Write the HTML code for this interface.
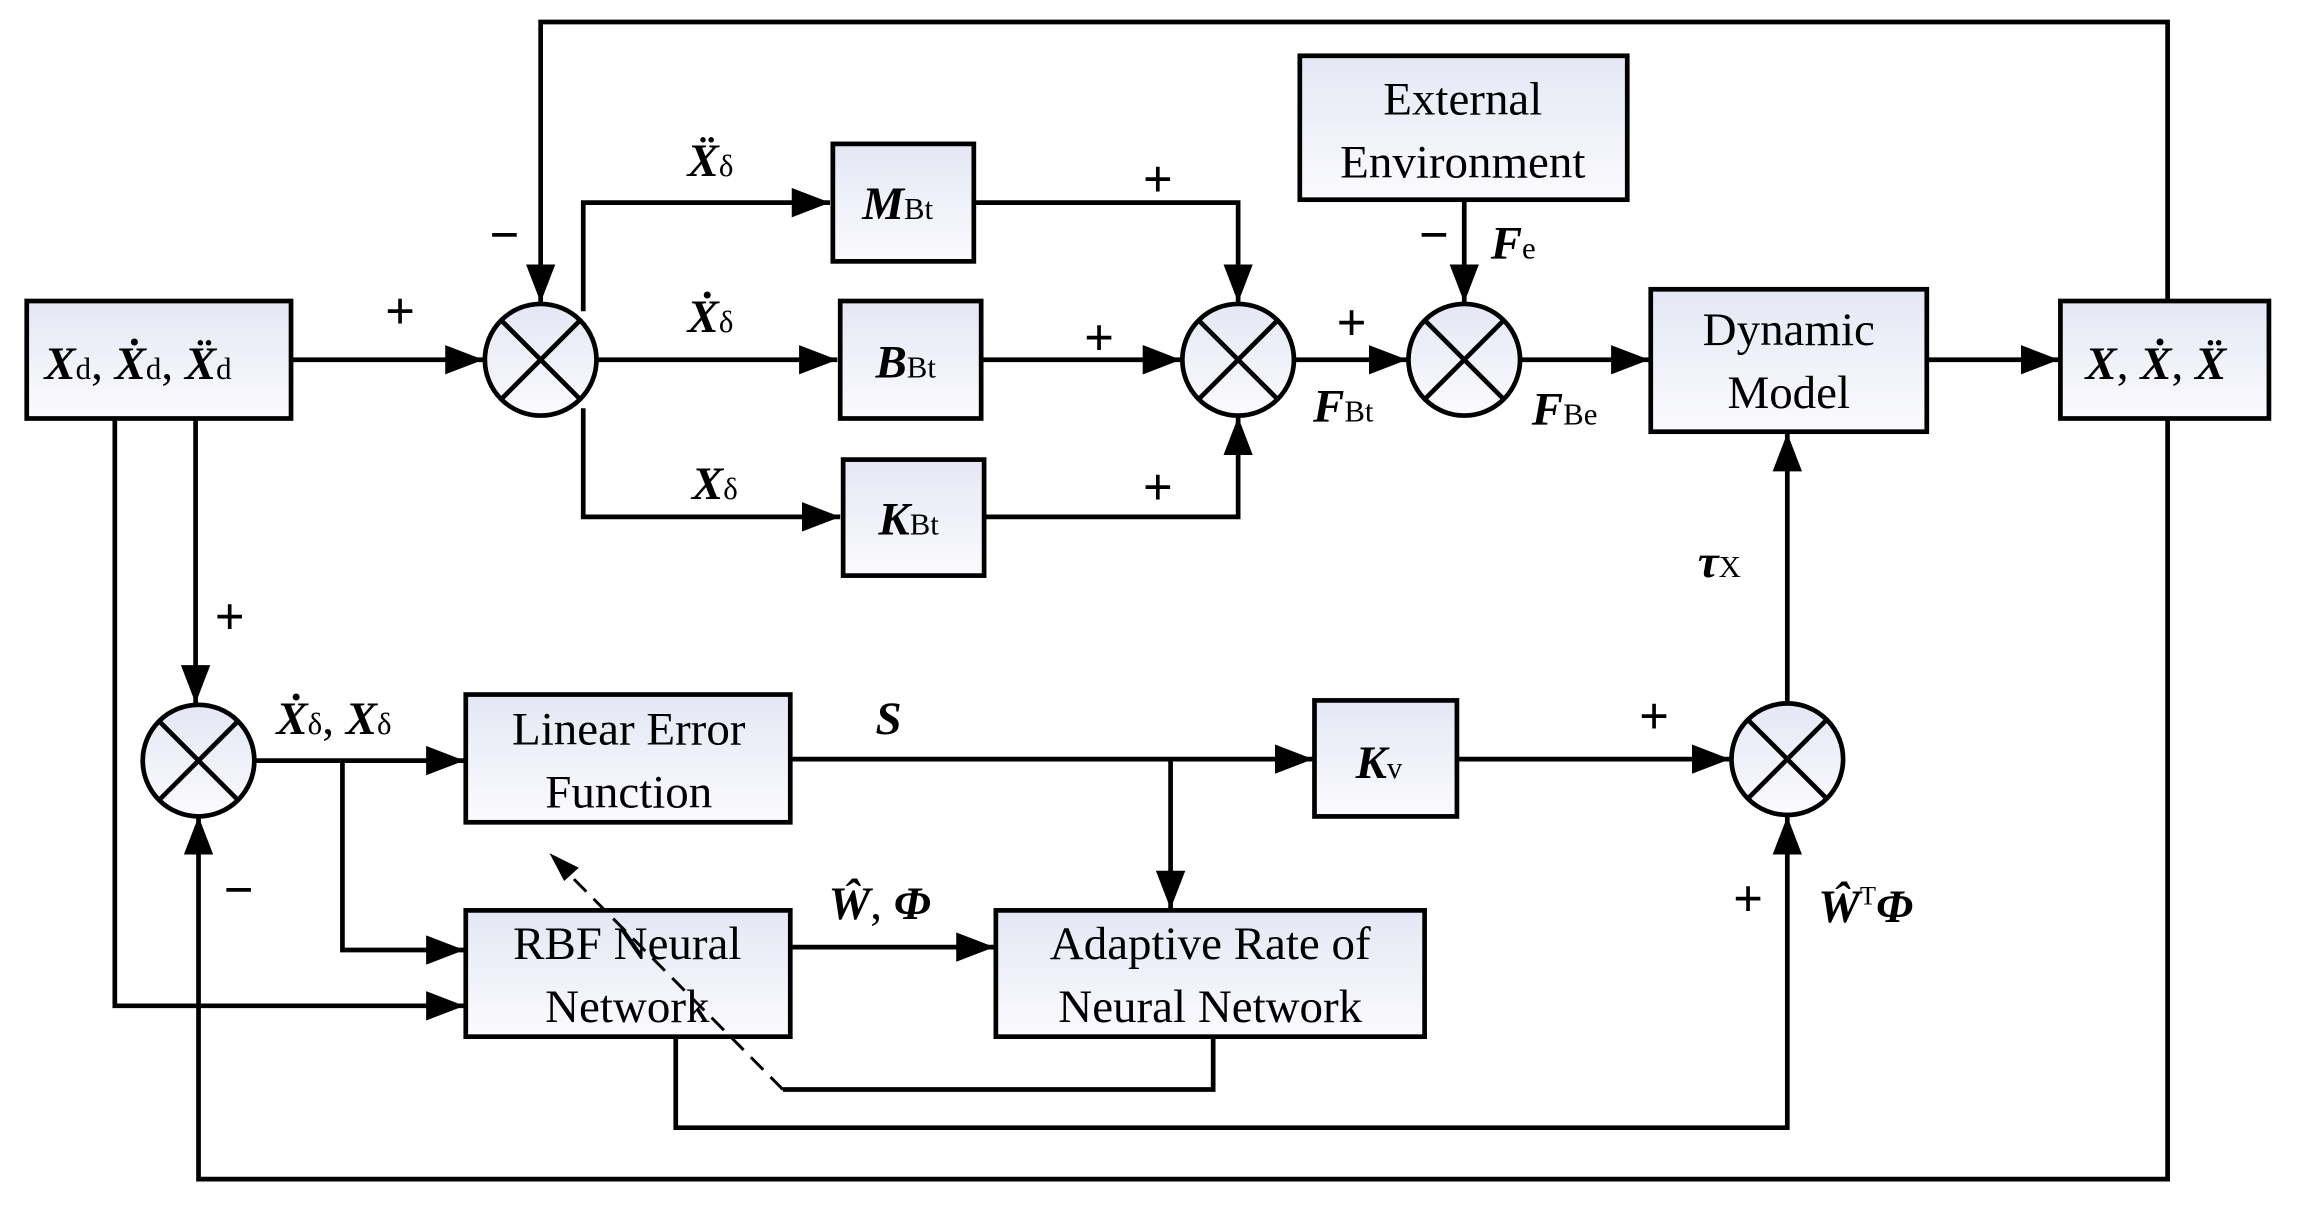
<!DOCTYPE html>
<html><head><meta charset="utf-8"><style>
html,body{margin:0;padding:0;background:#fff}
svg{display:block}
text{font-family:"Liberation Serif",serif;fill:#000}
.m{font-weight:bold;font-style:italic}
.p{font-family:"Liberation Sans",sans-serif}
</style></head><body>
<svg width="2303" height="1207" viewBox="0 0 1568 822" xmlns="http://www.w3.org/2000/svg">
<defs>
<linearGradient id="g" x1="0" y1="0" x2="0" y2="1"><stop offset="0" stop-color="#e4e7f4"/><stop offset="1" stop-color="#fbfbfe"/></linearGradient>
<marker id="b" viewBox="0 0 10 10" refX="10" refY="5" markerWidth="26" markerHeight="20" markerUnits="userSpaceOnUse" orient="auto" preserveAspectRatio="none"><path d="M0,0L10,5L0,10z" fill="#000"/></marker>
</defs>
<g fill="none" stroke="#000" stroke-width="3.2">
<polyline points="1476,285 1476,803 135,803 135,556" marker-end="url(#b)"/>
<polyline points="1476,205 1476,15 368,15 368,206" marker-end="url(#b)"/>
<line x1="198" y1="245" x2="329" y2="245" marker-end="url(#b)"/>
<polyline points="397,212 397,138 565,138" marker-end="url(#b)"/>
<line x1="406" y1="245" x2="570" y2="245" marker-end="url(#b)"/>
<polyline points="397,278 397,352 572,352" marker-end="url(#b)"/>
<polyline points="663,138 843,138 843,206" marker-end="url(#b)"/>
<line x1="668" y1="245" x2="804" y2="245" marker-end="url(#b)"/>
<polyline points="670,352 843,352 843,284" marker-end="url(#b)"/>
<line x1="881" y1="245" x2="958" y2="245" marker-end="url(#b)"/>
<line x1="997" y1="136" x2="997" y2="206" marker-end="url(#b)"/>
<line x1="1035" y1="245" x2="1123" y2="245" marker-end="url(#b)"/>
<line x1="1312" y1="245" x2="1402" y2="245" marker-end="url(#b)"/>
<line x1="133" y1="285" x2="133" y2="479" marker-end="url(#b)"/>
<polyline points="78,285 78,685 316,685" marker-end="url(#b)"/>
<line x1="173" y1="518" x2="316" y2="518" marker-end="url(#b)"/>
<polyline points="233,518 233,647 316,647" marker-end="url(#b)"/>
<line x1="538" y1="517" x2="894" y2="517" marker-end="url(#b)"/>
<line x1="797" y1="517" x2="797" y2="619" marker-end="url(#b)"/>
<line x1="992" y1="517" x2="1178" y2="517" marker-end="url(#b)"/>
<line x1="538" y1="645" x2="677" y2="645" marker-end="url(#b)"/>
<polyline points="460,706 460,768 1217,768 1217,556" marker-end="url(#b)"/>
<line x1="1217" y1="479" x2="1217" y2="295" marker-end="url(#b)"/>
<polyline points="826,706 826,742 533,742"/>
</g>
<g fill="url(#g)" stroke="#000" stroke-width="3.2">
<rect x="18" y="205" width="180" height="80"/>
<rect x="567" y="98" width="96" height="80"/>
<rect x="572" y="205" width="96" height="80"/>
<rect x="574" y="313" width="96" height="79"/>
<rect x="885" y="38" width="223" height="98"/>
<rect x="1124" y="197" width="188" height="97"/>
<rect x="1403" y="205" width="142" height="80"/>
<rect x="317" y="473" width="221" height="87"/>
<rect x="895" y="477" width="97" height="79"/>
<rect x="317" y="620" width="221" height="86"/>
<rect x="678" y="620" width="292" height="86"/>
<circle cx="368" cy="245" r="38"/>
<circle cx="843" cy="245" r="38"/>
<circle cx="997" cy="245" r="38"/>
<circle cx="135" cy="518" r="38"/>
<circle cx="1217" cy="517" r="38"/>
</g>
<g stroke="#000" stroke-width="3.2">
<path d="M341,218 L395,272 M395,218 L341,272"/>
<path d="M816,218 L870,272 M870,218 L816,272"/>
<path d="M970,218 L1024,272 M1024,218 L970,272"/>
<path d="M108,491 L162,545 M162,491 L108,545"/>
<path d="M1190,490 L1244,544 M1244,490 L1190,544"/>
</g>
<line x1="533" y1="742" x2="382" y2="590" stroke="#000" stroke-width="2" stroke-dasharray="12,7"/>
<path d="M374,581 L394,591 L384,600 z" fill="#000"/>
<g font-size="32">
<text x="30" y="258"><tspan class="m">X</tspan><tspan font-size="21">d</tspan>, <tspan class="m">Ẋ</tspan><tspan font-size="21">d</tspan>, <tspan class="m">Ẍ</tspan><tspan font-size="21">d</tspan></text>
<text x="587" y="149"><tspan class="m">M</tspan><tspan font-size="21">Bt</tspan></text>
<text x="596" y="257"><tspan class="m">B</tspan><tspan font-size="21">Bt</tspan></text>
<text x="598" y="364"><tspan class="m">K</tspan><tspan font-size="21">Bt</tspan></text>
<text x="996" y="78" text-anchor="middle">External</text>
<text x="996" y="121" text-anchor="middle">Environment</text>
<text x="1218" y="235" text-anchor="middle">Dynamic</text>
<text x="1218" y="278" text-anchor="middle">Model</text>
<text x="1420" y="258"><tspan class="m">X</tspan>, <tspan class="m">Ẋ</tspan>, <tspan class="m">Ẍ</tspan></text>
<text x="428" y="507" text-anchor="middle">Linear Error</text>
<text x="428" y="550" text-anchor="middle">Function</text>
<text x="427" y="653" text-anchor="middle">RBF Neural</text>
<text x="427" y="696" text-anchor="middle">Network</text>
<text x="824" y="653" text-anchor="middle">Adaptive Rate of</text>
<text x="824" y="696" text-anchor="middle">Neural Network</text>
<text x="923" y="530"><tspan class="m">K</tspan><tspan font-size="21">v</tspan></text>
<text x="468" y="120"><tspan class="m">Ẍ</tspan><tspan font-size="21">δ</tspan></text>
<text x="468" y="226"><tspan class="m">Ẋ</tspan><tspan font-size="21">δ</tspan></text>
<text x="471" y="340"><tspan class="m">X</tspan><tspan font-size="21">δ</tspan></text>
<text x="894" y="287"><tspan class="m">F</tspan><tspan font-size="21">Bt</tspan></text>
<text x="1043" y="289"><tspan class="m">F</tspan><tspan font-size="21">Be</tspan></text>
<text x="1015" y="176"><tspan class="m">F</tspan><tspan font-size="21">e</tspan></text>
<text x="1156" y="393"><tspan class="m">τ</tspan><tspan font-size="21">X</tspan></text>
<text x="188" y="500"><tspan class="m">Ẋ</tspan><tspan font-size="21">δ</tspan>, <tspan class="m">X</tspan><tspan font-size="21">δ</tspan></text>
<text x="596" y="500" class="m">S</text>
<text x="564" y="626"><tspan class="m">Ŵ</tspan>, <tspan class="m">Φ</tspan></text>
<text x="1238" y="628"><tspan class="m">Ŵ</tspan><tspan font-size="18" dy="-12">T</tspan><tspan class="m" dy="12">Φ</tspan></text>
</g>
<g font-size="36" class="p" font-weight="bold">
<text x="262" y="224">+</text>
<text x="333" y="172">−</text>
<text x="778" y="134">+</text>
<text x="738" y="242">+</text>
<text x="778" y="344">+</text>
<text x="910" y="232">+</text>
<text x="966" y="172">−</text>
<text x="146" y="432">+</text>
<text x="152" y="618">−</text>
<text x="1116" y="500">+</text>
<text x="1180" y="624">+</text>
</g>
</svg>
</body></html>
